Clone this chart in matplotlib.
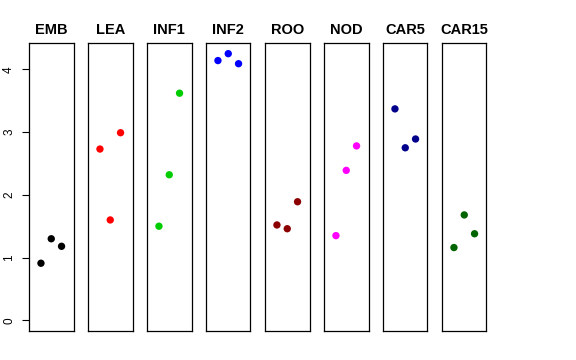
import matplotlib
matplotlib.use('Agg')
import matplotlib.pyplot as plt

plt.rcParams['font.family'] = ['Liberation Sans', 'DejaVu Sans']

# 各组织的三个重复样本
tissues = ['EMB', 'LEA', 'INF1', 'INF2', 'ROO', 'NOD', 'CAR5', 'CAR15']
reps = [1, 2, 3]
emb = [0.91, 1.30, 1.18]
lea = [2.73, 1.60, 2.99]
inf1 = [1.50, 2.32, 3.62]
inf2 = [4.14, 4.25, 4.09]
roo = [1.52, 1.46, 1.89]
nod = [1.35, 2.39, 2.78]
car5 = [3.37, 2.75, 2.89]
car15 = [1.16, 1.68, 1.38]
values = [emb, lea, inf1, inf2, roo, nod, car5, car15]
colors = ['black', 'red', '#00CD00', 'blue', '#8B0000', 'magenta', '#00008B', '#006400']

fig = plt.figure(figsize=(5.76, 3.6), dpi=100)

ymax = max(max(v) for v in values)
ypad = ymax * 0.04
left0 = 29 / 576
width = 44.5 / 576
step = 59 / 576
bottom = 1 - 331 / 360
height = (331 - 43) / 360

for i, (name, vals, col) in enumerate(zip(tissues, values, colors)):
    ax = fig.add_axes([left0 + i * step, bottom, width, height])
    ax.scatter(reps, vals, c=col, s=28, edgecolors='none', zorder=3)
    ax.set_xlim(0 - 0.16, 4 + 0.16)
    ax.set_ylim(0 - ypad, ymax + ypad)
    ax.set_xticks([])
    ax.set_title(name, fontsize=10.5, fontweight='bold', pad=6.5)
    for s in ax.spines.values():
        s.set_linewidth(0.9)
        s.set_color('black')
    if i == 0:
        ax.set_yticks([0, 1, 2, 3, 4])
        ax.tick_params(axis='y', length=5, width=0.8, labelsize=8.5, pad=5)
        for lab in ax.get_yticklabels():
            lab.set_rotation(90)
            lab.set_va('center')
    else:
        ax.set_yticks([])

fig.savefig('out.png', dpi=100)
